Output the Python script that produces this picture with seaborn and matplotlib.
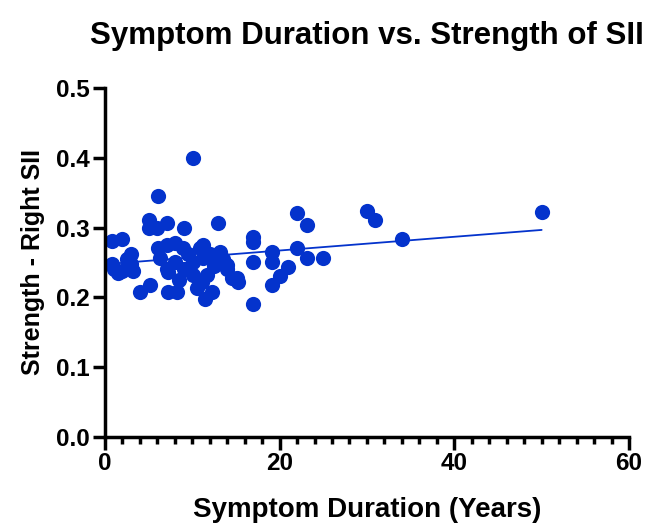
import matplotlib
matplotlib.use("Agg")
import matplotlib.pyplot as plt
import seaborn as sns
import pandas as pd
from matplotlib.ticker import MultipleLocator

sns.set_theme(style="ticks")
plt.rcParams["font.family"] = ["Liberation Sans", "DejaVu Sans"]
plt.rcParams["text.color"] = "black"
plt.rcParams["axes.labelcolor"] = "black"
plt.rcParams["xtick.color"] = "black"
plt.rcParams["ytick.color"] = "black"

# Data
duration = [0.8, 2.0, 1.0, 2.0, 3.0, 3.0, 1.5, 0.8, 3.2, 2.5,
            4.0, 5.2, 5.0, 5.0, 6.1, 7.1, 9.0, 10.1, 6.1, 7.1,
            8.0, 8.9, 6.3, 7.1, 8.0, 10.9, 10.1, 10.1, 10.5, 7.2,
            8.2, 7.2, 11.1, 11.5, 12.3, 11.2, 11.2, 13.2, 14.0, 15.1,
            11.7, 13.0, 17.0, 14.5, 15.2, 17.0, 17.0, 17.0, 19.1, 19.1,
            20.0, 19.1, 21.0, 22.0, 22.0, 23.1, 23.1, 25.0, 30.0, 30.9,
            34.0, 50.0, 9.5, 12.5, 13.5, 9.0, 12.0, 6.0, 14.0, 8.5]
strength = [0.281, 0.284, 0.240, 0.238, 0.262, 0.248, 0.235, 0.248, 0.238, 0.255,
            0.207, 0.218, 0.311, 0.300, 0.345, 0.306, 0.300, 0.400, 0.271, 0.275,
            0.278, 0.271, 0.257, 0.240, 0.251, 0.271, 0.251, 0.232, 0.214, 0.207,
            0.207, 0.237, 0.222, 0.197, 0.207, 0.257, 0.275, 0.265, 0.247, 0.228,
            0.232, 0.307, 0.190, 0.228, 0.222, 0.287, 0.280, 0.250, 0.265, 0.251,
            0.230, 0.218, 0.244, 0.271, 0.321, 0.304, 0.257, 0.257, 0.324, 0.311,
            0.283, 0.322, 0.262, 0.245, 0.255, 0.240, 0.262, 0.300, 0.240, 0.225]

df = pd.DataFrame({"duration": duration, "strength": strength})

blue = "#0433CC"

fig = plt.figure(figsize=(6.6, 5.27), dpi=100)
ax = fig.add_axes([0.159, 0.171, 0.794, 0.662])

sns.regplot(data=df, x="duration", y="strength", ax=ax, ci=None,
            color=blue,
            scatter_kws={"s": 120, "alpha": 1, "linewidths": 0, "clip_on": False},
            line_kws={"linewidth": 1.3})

ax.set_xlim(0, 60)
ax.set_ylim(0, 0.5)
ax.set_xticks([0, 20, 40, 60])
ax.set_yticks([0.0, 0.1, 0.2, 0.3, 0.4, 0.5])
ax.set_yticklabels(["0.0", "0.1", "0.2", "0.3", "0.4", "0.5"])
ax.xaxis.set_minor_locator(MultipleLocator(2))

sns.despine(ax=ax)
for side in ["left", "bottom"]:
    ax.spines[side].set_linewidth(2.5)
    ax.spines[side].set_color("black")
ax.tick_params(axis="both", which="major", length=9, width=2.5,
               labelsize=17.5, pad=2)
ax.tick_params(axis="x", which="minor", length=5, width=2.5)
for lbl in ax.get_xticklabels() + ax.get_yticklabels():
    lbl.set_fontweight("bold")

ax.set_xlabel("Symptom Duration (Years)", fontsize=20, fontweight="bold", labelpad=16)
ax.set_ylabel("Strength - Right SII", fontsize=18, fontweight="bold", labelpad=8)
ax.set_title("Symptom Duration vs. Strength of SII", fontsize=22.5,
             fontweight="bold", pad=32)

fig.savefig("out.png", dpi=100)
